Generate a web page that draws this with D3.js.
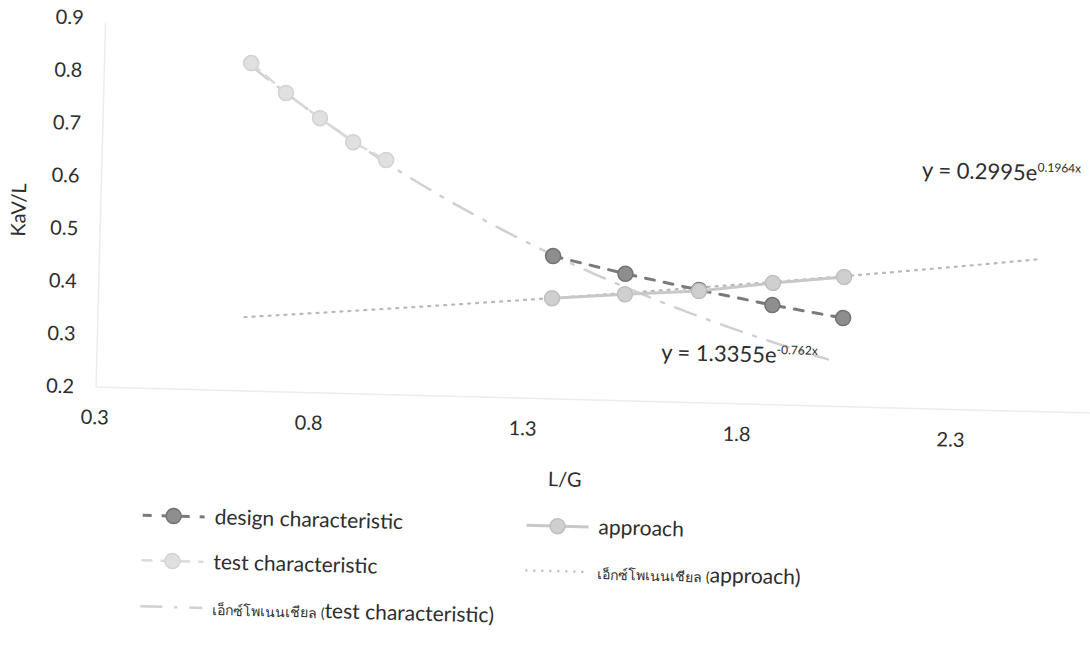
<!DOCTYPE html>
<html>
<head>
<meta charset="utf-8">
<script src="https://cdn.jsdelivr.net/npm/d3@7"></script>
<style>
  body { margin: 0; background: #fff; }
  svg { display: block; font-family: Lato, "Noto Sans", "DejaVu Sans", sans-serif; }
</style>
</head>
<body>
<svg id="chart" width="1090" height="653"></svg>
<script>
// values (L/G vs KaV/L)
var testX = [0.645, 0.728, 0.809, 0.888, 0.966];
var testY = [0.822, 0.767, 0.721, 0.677, 0.645];
var designX = [1.362, 1.532, 1.705, 1.877, 2.043];
var designY = [0.471, 0.441, 0.414, 0.389, 0.368];
var approachX = [1.362, 1.532, 1.705, 1.877, 2.043];
var approachY = [0.391, 0.402, 0.412, 0.431, 0.446];
// exponential trendlines as printed on the chart
var testFit = { a: 1.3355, b: -0.762, from: 0.645, to: 2.01 };
var approachFit = { a: 0.2995, b: 0.1964, from: 0.645, to: 2.5 };
var xTicks = [0.3, 0.8, 1.3, 1.8, 2.3];
var yTicks = [0.2, 0.3, 0.4, 0.5, 0.6, 0.7, 0.8, 0.9];

var svg = d3.select("#chart");
// the scan is turned a little clockwise
var root = svg.append("g").attr("transform", "rotate(1.5,95,388)");

var x = d3.scaleLinear().domain([0.3, 2.8]).range([95, 1165]);
var y = d3.scaleLinear().domain([0.2, 0.9]).range([387, 18]);
var ink = "#2e2e2e";

// axis lines (very faint on the scan)
root.append("line").attr("x1", 96).attr("x2", 96).attr("y1", 22).attr("y2", 387)
  .attr("stroke", "#ececec").attr("stroke-width", 1.5);
root.append("line").attr("x1", 96).attr("x2", 1100).attr("y1", 387).attr("y2", 387)
  .attr("stroke", "#ececec").attr("stroke-width", 1.5);

var yAxis = root.append("g").attr("transform", "translate(96,0)")
  .call(d3.axisLeft(y).tickValues(yTicks).tickSize(0).tickPadding(22).tickFormat(d3.format(".1f")));
var xAxis = root.append("g").attr("transform", "translate(0,387)")
  .call(d3.axisBottom(x).tickValues(xTicks).tickSize(0).tickPadding(23).tickFormat(d3.format(".1f")));
[yAxis, xAxis].forEach(function (g) {
  g.select(".domain").remove();
  g.selectAll("text").attr("font-size", 20).attr("fill", ink)
    .attr("font-family", "Lato, 'Noto Sans', sans-serif");
});

root.append("text").attr("transform", "translate(21,212) rotate(-90)")
  .attr("text-anchor", "middle").attr("font-size", 20).attr("fill", ink).text("KaV/L");
root.append("text").attr("x", 567).attr("y", 474)
  .attr("text-anchor", "middle").attr("font-size", 20).attr("fill", ink).text("L/G");

var line = d3.line().x(function (d) { return x(d[0]); }).y(function (d) { return y(d[1]); });
function fitPoints(f) {
  var n = 60, pts = [];
  for (var i = 0; i <= n; i++) {
    var xv = f.from + (f.to - f.from) * i / n;
    pts.push([xv, f.a * Math.exp(f.b * xv)]);
  }
  return pts;
}
function zip(a, b) { return a.map(function (v, i) { return [v, b[i]]; }); }

var styles = {
  design:  { stroke: "#7a7a7a", width: 3, dash: "9,10", fill: "#8e8e8e", ring: "#727272" },
  test:    { stroke: "#dadada", width: 2.5, dash: "11,8", fill: "#e0e0e0", ring: "#d2d2d2" },
  approach:{ stroke: "#c8c8c8", width: 3, dash: null, fill: "#cfcfcf", ring: "#bfbfbf" },
  testFit: { stroke: "#d0d0d0", width: 2.5, dash: "22,12,3,12" },
  apprFit: { stroke: "#b8b8b8", width: 2.2, dash: "2,6" }
};

function drawLine(pts, s) {
  root.append("path").datum(pts).attr("d", line).attr("fill", "none")
    .attr("stroke", s.stroke).attr("stroke-width", s.width)
    .attr("stroke-dasharray", s.dash).attr("stroke-linecap", "round");
}
function drawMarks(pts, s) {
  root.append("g").selectAll("circle").data(pts).enter().append("circle")
    .attr("cx", function (d) { return x(d[0]); }).attr("cy", function (d) { return y(d[1]); })
    .attr("r", 7.5).attr("fill", s.fill).attr("stroke", s.ring).attr("stroke-width", 1.5);
}

drawLine(fitPoints(approachFit), styles.apprFit);
drawLine(fitPoints(testFit), styles.testFit);
drawLine(zip(testX, testY), styles.test);
drawMarks(zip(testX, testY), styles.test);
drawLine(zip(designX, designY), styles.design);
drawMarks(zip(designX, designY), styles.design);
drawLine(zip(approachX, approachY), styles.approach);
drawMarks(zip(approachX, approachY), styles.approach);

// trendline equations
function equation(xp, yp, base, sup) {
  var t = root.append("text").attr("x", xp).attr("y", yp).attr("font-size", 22).attr("fill", ink);
  t.append("tspan").text(base);
  t.append("tspan").attr("font-size", 12).attr("dy", -9).text(sup);
}
equation(916, 156, "y = 0.2995e", "0.1964x");
equation(660, 345, "y = 1.3355e", "-0.762x");

// legend
var legend = [
  { col: 0, row: 0, s: styles.design, mark: true, label: ["", "design characteristic"] },
  { col: 0, row: 1, s: styles.test, mark: true, label: ["", "test characteristic"] },
  { col: 0, row: 2, s: styles.testFit, mark: false, label: ["เอ็กซ์โพเนนเชียล (", "test characteristic)"] },
  { col: 1, row: 0, s: styles.approach, mark: true, label: ["", "approach"] },
  { col: 1, row: 1, s: styles.apprFit, mark: false, label: ["เอ็กซ์โพเนนเชียล (", "approach)"] }
];
var colX = [146, 530], rowY = [514, 559, 605];
legend.forEach(function (d) {
  var lx = colX[d.col], ly = rowY[d.row];
  root.append("line").attr("x1", lx).attr("x2", lx + 62).attr("y1", ly).attr("y2", ly)
    .attr("stroke", d.s.stroke).attr("stroke-width", d.s.width).attr("stroke-dasharray", d.s.dash);
  if (d.mark) {
    root.append("circle").attr("cx", lx + 31).attr("cy", ly).attr("r", 7.5)
      .attr("fill", d.s.fill).attr("stroke", d.s.ring).attr("stroke-width", 1.5);
  }
  var t = root.append("text").attr("x", lx + 72).attr("y", ly + 7).attr("fill", ink).attr("font-size", 21);
  if (d.label[0]) t.append("tspan").attr("font-size", 14).text(d.label[0]);
  t.append("tspan").text(d.label[1]);
});
</script>
</body>
</html>
